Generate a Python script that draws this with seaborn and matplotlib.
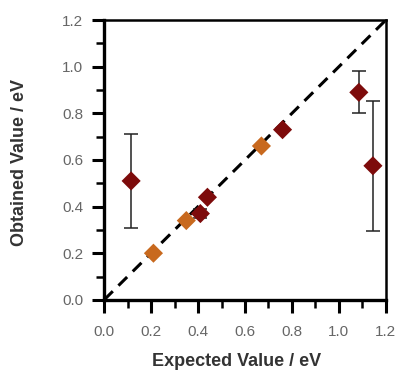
import matplotlib
matplotlib.use("Agg")
import matplotlib.pyplot as plt
import seaborn as sns
import pandas as pd
from matplotlib.ticker import MultipleLocator

sns.set_style("ticks")
plt.rcParams['font.family'] = ['Liberation Sans', 'DejaVu Sans']

expected = [0.115, 0.21, 0.35, 0.41, 0.44, 0.67, 0.76, 1.085, 1.145]
obtained = [0.51, 0.20, 0.34, 0.37, 0.44, 0.66, 0.73, 0.89, 0.575]
errors = [0.20, 0.0, 0.0, 0.02, 0.0, 0.0, 0.0, 0.09, 0.28]
group = ["A", "B", "B", "A", "A", "B", "A", "A", "A"]
palette = {"A": "#7d0b0b", "B": "#c8691e"}

df = pd.DataFrame({"x": expected, "y": obtained, "err": errors, "g": group})

fig = plt.figure(figsize=(3.99, 3.72), dpi=100)
ax = fig.add_axes([0.261, 0.194, 0.706, 0.752])

ax.plot([0, 1.2], [0, 1.2], ls=(0, (4, 2.6)), color="black", lw=2.2, zorder=1)

for _, r in df.iterrows():
    if r["err"] > 0:
        ax.errorbar(r["x"], r["y"], yerr=r["err"], fmt="none", ecolor="#222222",
                    elinewidth=1.1, capsize=5, capthick=1.1, zorder=2)

sns.scatterplot(data=df, x="x", y="y", hue="g", palette=palette, marker="D",
                s=95, edgecolor="none", legend=False, ax=ax, zorder=3)

ax.set_xlim(0, 1.2)
ax.set_ylim(0, 1.2)
ax.xaxis.set_major_locator(MultipleLocator(0.2))
ax.xaxis.set_minor_locator(MultipleLocator(0.1))
ax.yaxis.set_major_locator(MultipleLocator(0.2))
ax.yaxis.set_minor_locator(MultipleLocator(0.1))
ax.xaxis.set_major_formatter(plt.FuncFormatter(lambda v, p: f"{v:.1f}"))
ax.yaxis.set_major_formatter(plt.FuncFormatter(lambda v, p: f"{v:.1f}"))

for side in ["left", "bottom"]:
    ax.spines[side].set_linewidth(2.4)
for side in ["top", "right"]:
    ax.spines[side].set_linewidth(1.8)
for s in ax.spines.values():
    s.set_color("black")
ax.tick_params(which="major", direction="out", length=9, width=2.2,
               labelsize=11, labelcolor="#666666", color="black")
ax.tick_params(axis="x", which="major", pad=9)
ax.tick_params(axis="y", which="major", pad=6)
ax.tick_params(which="minor", direction="out", length=5.5, width=1.8, color="black")

ax.set_xlabel("Expected Value / eV", fontsize=13, fontweight="bold", color="#333333")
ax.set_ylabel("Obtained Value / eV", fontsize=13, fontweight="bold", color="#333333")
ax.xaxis.set_label_coords(0.47, -0.19)
ax.yaxis.set_label_coords(-0.27, 0.49)

fig.savefig("out.png", dpi=100)
